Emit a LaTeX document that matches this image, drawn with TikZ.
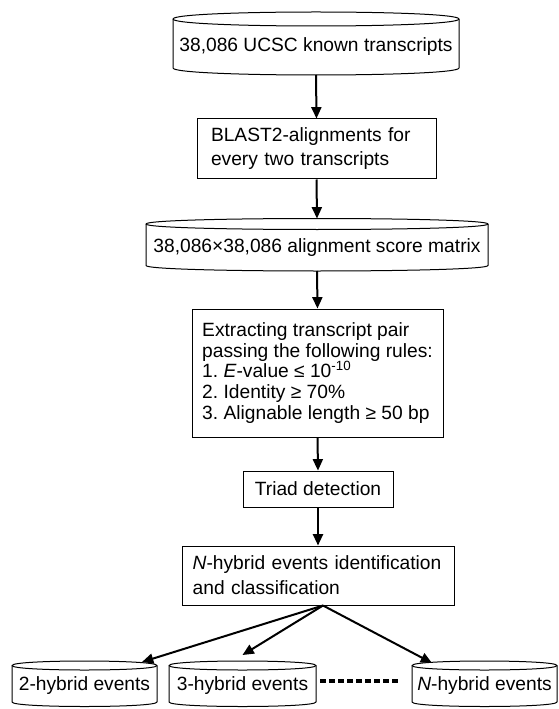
\documentclass[tikz,border=0pt]{standalone}
\usepackage{fontspec}
\setmainfont{Liberation Sans}
\usetikzlibrary{arrows.meta,calc}
\newcommand\drawdb[2]{%
  \draw[outline] ([yshift=#2]#1.north west)
     .. controls ([yshift={#2*7/3}]#1.north west) and ([yshift={#2*7/3}]#1.north east) .. ([yshift=#2]#1.north east)
     .. controls ([yshift={-#2/3}]#1.north east) and ([yshift={-#2/3}]#1.north west) .. cycle;
  \draw[outline] ([yshift=#2]#1.north west) -- (#1.south west)
     .. controls ([yshift={-#2*4/3}]#1.south west) and ([yshift={-#2*4/3}]#1.south east) .. (#1.south east)
     -- ([yshift=#2]#1.north east);
}
\tikzset{
  outline/.style={line width=0.75pt, line join=round},
  box/.style={draw, line width=0.75pt, rectangle, inner ysep=0pt, align=left,
              font=\fontsize{14.4}{18}\selectfont\frenchspacing},
  dbbody/.style={rectangle, inner sep=0pt, outer sep=0pt, align=center,
              font=\fontsize{14.4}{18}\selectfont},
  arr/.style={line width=1.5pt, -{Triangle[length=8.5pt,width=7.5pt]}},
  dots/.style={line width=3.5pt, dash pattern=on 4.5pt off 2.25pt},
}
\begin{document}
\begin{tikzpicture}[x=0.75pt, y=-0.75pt]
\useasboundingbox (0,0) rectangle (558,709);

\node[dbbody, minimum width=214.5pt, minimum height=31.5pt] (c1) at (316,47) {38,086 UCSC known transcripts};
\drawdb{c1}{5.25pt}

\node[box, text width=158.25pt, inner xsep=10.5pt, minimum height=45pt] (b1) at (316.5,149)
  {BLAST2-alignments for\\every two transcripts};

\node[dbbody, minimum width=256.5pt, minimum height=27pt] (c2) at (317,247.5) {38,086×38,086 alignment score matrix};
\drawdb{c2}{4.125pt}

\node[box, minimum width=188.25pt, inner xsep=0pt, minimum height=96pt,
      font=\fontsize{14.4}{15.6}\selectfont\frenchspacing] (r1) at (317.5,373)
  {Extracting transcript pair\\
   passing the following rules:\\
   1. \textit{E}-value ≤ 10\textsuperscript{-10}\\
   2. Identity ≥ 70\%\\
   3. Alignable length ≥ 50 bp};

\node[box, minimum width=112.5pt, minimum height=27pt, align=center] (t1) at (318,489) {Triad detection};

\node[box, text width=188pt, inner xsep=8pt, minimum height=44.25pt,
      font=\fontsize{14.4}{18.75}\selectfont] (n1) at (318,575.5)
  {\textit{N}-hybrid events identification\\and classification};

\node[dbbody, minimum width=108.75pt, minimum height=24pt] (h1) at (84.5,686) {2-hybrid events};
\drawdb{h1}{3.375pt}
\node[dbbody, minimum width=110.25pt, minimum height=24pt] (h3) at (242.5,686) {3-hybrid events};
\drawdb{h3}{3.375pt}
\node[dbbody, minimum width=108.75pt, minimum height=24pt] (hN) at (484.5,686) {\textit{N}-hybrid events};
\drawdb{hN}{3.375pt}

\draw[arr] ([yshift=-5.25pt]c1.south) -- (b1.north);
\draw[arr] (b1.south) -- ([yshift=8.25pt]c2.north);
\draw[arr] ([yshift=-4.125pt]c2.south) -- (r1.north);
\draw[arr] (r1.south) -- (t1.north);
\draw[arr] (t1.south) -- (n1.north);

\coordinate (fork) at ([xshift=3.75pt]n1.south);
\draw[arr] (fork) -- ($(h1.north)+(57.5,-8)$);
\draw[arr] (fork) -- ($(h3.north)+(0,-15)$);
\draw[arr] (fork) -- ($(hN.north)+(-52.5,-7)$);

\draw[dots] ($(h3.east)+(4,-5)$) -- ($(hN.west)+(-11,-5)$);
\end{tikzpicture}
\end{document}
